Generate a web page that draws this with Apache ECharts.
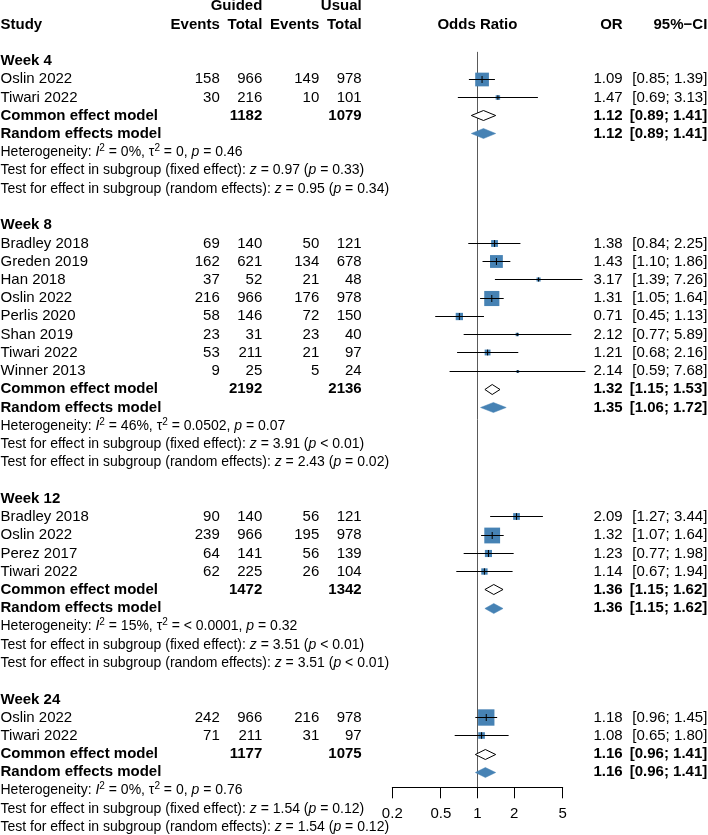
<!DOCTYPE html>
<html><head><meta charset="utf-8">
<script src="https://cdn.jsdelivr.net/npm/echarts@6/dist/echarts.min.js"></script>
<style>html,body{margin:0;padding:0;background:#fff}#c{width:708px;height:835px}</style>
</head><body><div id="c"></div>
<script>
// ---------------- data ----------------
const subgroups = ['Week 4', 'Week 8', 'Week 12', 'Week 24'];
const studyGroup = [0, 0, 1, 1, 1, 1, 1, 1, 1, 1, 2, 2, 2, 2, 3, 3];
const studyNames = ['Oslin 2022', 'Tiwari 2022', 'Bradley 2018', 'Greden 2019', 'Han 2018', 'Oslin 2022', 'Perlis 2020', 'Shan 2019', 'Tiwari 2022', 'Winner 2013', 'Bradley 2018', 'Oslin 2022', 'Perez 2017', 'Tiwari 2022', 'Oslin 2022', 'Tiwari 2022'];
const guidedEvents = [158, 30, 69, 162, 37, 216, 58, 23, 53, 9, 90, 239, 64, 62, 242, 71];
const guidedTotal = [966, 216, 140, 621, 52, 966, 146, 31, 211, 25, 140, 966, 141, 225, 966, 211];
const usualEvents = [149, 10, 50, 134, 21, 176, 72, 23, 21, 5, 56, 195, 56, 26, 216, 31];
const usualTotal = [978, 101, 121, 678, 48, 978, 150, 40, 97, 24, 121, 978, 139, 104, 978, 97];
const studyOR = [1.09, 1.47, 1.38, 1.43, 3.17, 1.31, 0.71, 2.12, 1.21, 2.14, 2.09, 1.32, 1.23, 1.14, 1.18, 1.08];
const studyLower = [0.85, 0.69, 0.84, 1.10, 1.39, 1.05, 0.45, 0.77, 0.68, 0.59, 1.27, 1.07, 0.77, 0.67, 0.96, 0.65];
const studyUpper = [1.39, 3.13, 2.25, 1.86, 7.26, 1.64, 1.13, 5.89, 2.16, 7.68, 3.44, 1.64, 1.98, 1.94, 1.45, 1.80];

const commonGuidedTotal = [1182, 2192, 1472, 1177];
const commonUsualTotal = [1079, 2136, 1342, 1075];
const commonOR = [1.12, 1.32, 1.36, 1.16];
const commonLower = [0.89, 1.15, 1.15, 0.96];
const commonUpper = [1.41, 1.53, 1.62, 1.41];
const randomOR = [1.12, 1.35, 1.36, 1.16];
const randomLower = [0.89, 1.06, 1.15, 0.96];
const randomUpper = [1.41, 1.72, 1.62, 1.41];

const hetI2 = ['0%', '46%', '15%', '0%'];
const hetTau2 = ['0', '0.0502', '< 0.0001', '0'];
const hetP = ['0.46', '0.07', '0.32', '0.76'];
const fixedZ = ['0.97', '3.91', '3.51', '1.54'];
const fixedP = ['= 0.33', '< 0.01', '< 0.01', '= 0.12'];
const randomZ = ['0.95', '2.43', '3.51', '1.54'];
const randomP = ['= 0.34', '= 0.02', '< 0.01', '= 0.12'];

const xTicks = [0.2, 0.5, 1, 2, 5];

// ---------------- layout / style ----------------
const W = 708, H = 835;
const ROW0 = 24.5, ROWH = 18.24;
const AXIS_Y = 787.3;
const PLOT_L = 392.3, PLOT_R = 562.7;
const FF = '"Liberation Sans", Arial, Helvetica, sans-serif';
const BLUE = '#4682B4';
const COL = { study: 0.5, ge: 219.8, gt: 262.3, ue: 319.3, ut: 361.7, plot: 477.4, or: 622.7, ci: 707.3 };

// rows
let row = 2;
const studyRow = new Array(studyNames.length);
const groupRows = [];
subgroups.forEach((g, gi) => {
  const L = { label: row++ };
  studyGroup.forEach((sg, si) => { if (sg === gi) studyRow[si] = row++; });
  L.common = row++; L.random = row++; L.het = row++; L.fixedTest = row++; L.randomTest = row++;
  row++;
  groupRows.push(L);
});

const f2 = v => v.toFixed(2);
const ciTxt = (l, u) => '[' + f2(l) + '; ' + f2(u) + ']';

// text items
const texts = [];
function T(x, r, text, align, bold, size, rich) { texts.push({ x, r, text, align, bold, size: size || 15, rich }); }
T(COL.gt, -1, 'Guided', 'right', true);
T(COL.ut, -1, 'Usual', 'right', true);
T(COL.study, 0, 'Study', 'left', true);
T(COL.ge, 0, 'Events', 'right', true);
T(COL.gt, 0, 'Total', 'right', true);
T(COL.ue, 0, 'Events', 'right', true);
T(COL.ut, 0, 'Total', 'right', true);
T(COL.plot, 0, 'Odds Ratio', 'center', true);
T(COL.or, 0, 'OR', 'right', true);
T(COL.ci, 0, '95%\u2212CI', 'right', true);

subgroups.forEach((g, gi) => {
  const L = groupRows[gi];
  T(COL.study, L.label, g, 'left', true);
  studyGroup.forEach((sg, si) => {
    if (sg !== gi) return;
    const r = studyRow[si];
    T(COL.study, r, studyNames[si], 'left');
    T(COL.ge, r, String(guidedEvents[si]), 'right');
    T(COL.gt, r, String(guidedTotal[si]), 'right');
    T(COL.ue, r, String(usualEvents[si]), 'right');
    T(COL.ut, r, String(usualTotal[si]), 'right');
    T(COL.or, r, f2(studyOR[si]), 'right');
    T(COL.ci, r, ciTxt(studyLower[si], studyUpper[si]), 'right');
  });
  T(COL.study, L.common, 'Common effect model', 'left', true);
  T(COL.gt, L.common, String(commonGuidedTotal[gi]), 'right', true);
  T(COL.ut, L.common, String(commonUsualTotal[gi]), 'right', true);
  T(COL.or, L.common, f2(commonOR[gi]), 'right', true);
  T(COL.ci, L.common, ciTxt(commonLower[gi], commonUpper[gi]), 'right', true);
  T(COL.study, L.random, 'Random effects model', 'left', true);
  T(COL.or, L.random, f2(randomOR[gi]), 'right', true);
  T(COL.ci, L.random, ciTxt(randomLower[gi], randomUpper[gi]), 'right', true);
  T(COL.study, L.het, 'Heterogeneity: {i|I}{s|2}{n| = ' + hetI2[gi] + ', \u03C4}{s|2}{n| = ' + hetTau2[gi] + ', }{i|p}{n| = ' + hetP[gi] + '}', 'left', false, 14, true);
  T(COL.study, L.fixedTest, '{n|Test for effect in subgroup (fixed effect): }{i|z}{n| = ' + fixedZ[gi] + ' (}{i|p}{n| ' + fixedP[gi] + ')}', 'left', false, 14, true);
  T(COL.study, L.randomTest, '{n|Test for effect in subgroup (random effects): }{i|z}{n| = ' + randomZ[gi] + ' (}{i|p}{n| ' + randomP[gi] + ')}', 'left', false, 14, true);
});

const yMinAll = -ROW0 / ROWH;
const yMaxAll = (H - ROW0) / ROWH;
const yMaxPlot = (AXIS_Y - ROW0) / ROWH;

const studyData = studyOR.map((v, i) => [v, studyRow[i], studyLower[i], studyUpper[i]]);
const diamondData = [];
subgroups.forEach((g, gi) => {
  diamondData.push([commonOR[gi], groupRows[gi].common, commonLower[gi], commonUpper[gi], 0]);
  diamondData.push([randomOR[gi], groupRows[gi].random, randomLower[gi], randomUpper[gi], 1]);
});

const crisp = y => Math.round(y - 0.5) + 0.5;

const RICH = {
  n: { fontSize: 14, fontFamily: FF, fill: '#000', lineHeight: 18, verticalAlign: 'middle' },
  i: { fontSize: 14, fontFamily: FF, fill: '#000', fontStyle: 'italic', lineHeight: 18, verticalAlign: 'middle' },
  s: { fontSize: 10, fontFamily: FF, fill: '#000', lineHeight: 10, verticalAlign: 'top' }
};

const option = {
  animation: false,
  backgroundColor: '#fff',
  grid: [
    { left: PLOT_L, width: PLOT_R - PLOT_L, top: 0, height: AXIS_Y },
    { left: 0, top: 0, width: W, height: H }
  ],
  xAxis: [
    { gridIndex: 0, type: 'log', logBase: 10, min: 0.2, max: 5, position: 'bottom',
      axisLine: { show: true, onZero: false, lineStyle: { color: '#000', width: 1 } },
      axisTick: { show: false }, axisLabel: { show: false }, splitLine: { show: false } },
    { gridIndex: 1, type: 'value', min: 0, max: W, show: false }
  ],
  yAxis: [
    { gridIndex: 0, type: 'value', inverse: true, min: yMinAll, max: yMaxPlot, show: false },
    { gridIndex: 1, type: 'value', inverse: true, min: yMinAll, max: yMaxAll, show: false }
  ],
  series: [
    { type: 'line', xAxisIndex: 0, yAxisIndex: 0, data: [[1, 1.5], [1, yMaxPlot]], symbol: 'none', silent: true,
      lineStyle: { color: '#5a5a5a', width: 1 }, z: 1 },
    { type: 'custom', xAxisIndex: 0, yAxisIndex: 0, clip: false, z: 3, silent: true,
      data: studyData,
      renderItem: (params, api) => {
        const est = api.value(0), r = api.value(1), lo = api.value(2), hi = api.value(3);
        const c = api.coord([est, r]);
        const pl = api.coord([lo, r]);
        const ph = api.coord([hi, r]);
        const se = (Math.log(hi) - Math.log(lo)) / 3.92;
        const s = Math.max(2.8, 1.72 / se);
        const y = crisp(c[1]);
        const th = Math.min(s, 7);
        return { type: 'group', children: [
          { type: 'rect', shape: { x: c[0] - s / 2, y: y - s / 2, width: s, height: s }, style: { fill: BLUE } },
          { type: 'line', shape: { x1: pl[0], y1: y, x2: ph[0], y2: y }, style: { stroke: '#000', lineWidth: 1 } },
          { type: 'line', shape: { x1: c[0], y1: y - th / 2, x2: c[0], y2: y + th / 2 }, style: { stroke: '#000', lineWidth: 1 } }
        ] };
      } },
    { type: 'custom', xAxisIndex: 0, yAxisIndex: 0, clip: false, z: 3, silent: true,
      data: diamondData,
      renderItem: (params, api) => {
        const est = api.value(0), r = api.value(1), lo = api.value(2), hi = api.value(3), kind = api.value(4);
        const c = api.coord([est, r]);
        const pl = api.coord([lo, r]);
        const ph = api.coord([hi, r]);
        const y = crisp(c[1]);
        const h = 5;
        return { type: 'polygon', shape: { points: [[pl[0], y], [c[0], y - h], [ph[0], y], [c[0], y + h]] },
          style: kind === 0 ? { fill: '#fff', stroke: '#000', lineWidth: 1 } : { fill: BLUE, stroke: BLUE, lineWidth: 0.5 } };
      } },
    { type: 'custom', xAxisIndex: 0, yAxisIndex: 0, clip: false, z: 3, silent: true,
      data: xTicks.map(v => [v, yMaxPlot]),
      renderItem: (params, api) => {
        const v = api.value(0);
        const p = api.coord([v, api.value(1)]);
        const x = Math.round(p[0] - 0.5) + 0.5;
        return { type: 'group', children: [
          { type: 'line', shape: { x1: x, y1: p[1], x2: x, y2: p[1] + 11 }, style: { stroke: '#000', lineWidth: 1 } },
          { type: 'text', style: { text: String(xTicks[params.dataIndex]), x: p[0], y: p[1] + 27, align: 'center', verticalAlign: 'middle',
            fontSize: 15, fontFamily: FF, fill: '#000' } }
        ] };
      } },
    { type: 'custom', xAxisIndex: 1, yAxisIndex: 1, clip: false, z: 4, silent: true,
      data: texts.map((t, i) => [t.x, t.r, i]),
      renderItem: (params, api) => {
        const t = texts[params.dataIndex];
        const p = api.coord([t.x, t.r]);
        const style = { text: t.text, x: p[0], y: p[1], align: t.align, verticalAlign: 'middle',
          fontSize: t.size, fontFamily: FF, fontWeight: t.bold ? 'bold' : 'normal', fill: '#000' };
        if (t.rich) style.rich = RICH;
        return { type: 'text', style };
      } }
  ]
};

const chart = echarts.init(document.getElementById('c'), null, { renderer: 'canvas', width: W, height: H });
chart.setOption(option);
</script>
</body></html>
